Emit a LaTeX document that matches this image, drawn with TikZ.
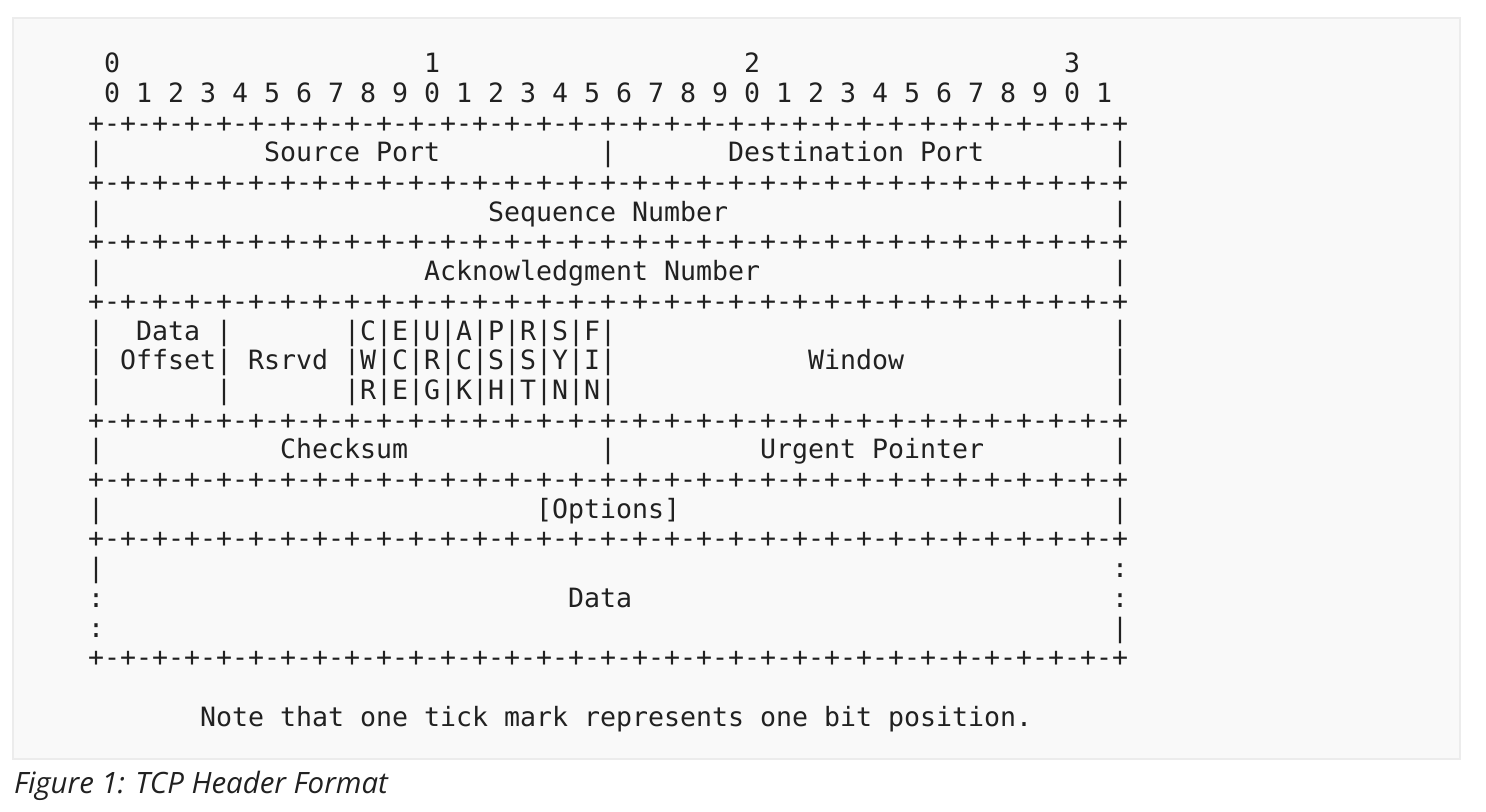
\documentclass[tikz,border=0pt]{standalone}
\usepackage{fontspec}
\newfontfamily\asciifont{DejaVu Sans Mono}
\newfontfamily\capfont{Open Sans}
\definecolor{ink}{RGB}{33,33,33}
\definecolor{boxfill}{RGB}{249,249,249}
\definecolor{boxline}{RGB}{236,236,236}
\def\q{-+-+-+-+}
\newcommand\brdline{+\q\q\q\q\q\q\q\q}
\tikzset{
  asc/.style={anchor=base west, inner sep=0pt, outer sep=0pt, text=ink,
    font=\asciifont\fontsize{13.29pt}{14pt}\selectfont\frenchspacing},
  capt/.style={anchor=base west, inner sep=0pt, outer sep=0pt, text=ink,
    font=\capfont\itshape\fontsize{14.7pt}{16pt}\selectfont}
}
% \ascat{name}{column}{line}{text}
\newcommand\ascat[4]{\node[asc] (#1) at ({40+16*#2},{72.7+29.7*#3}) {#4};}
\begin{document}
\begin{tikzpicture}[x=0.5pt,y=-0.5pt]
\useasboundingbox (0,0) rectangle (1486,812);
\fill[white] (0,0) rectangle (1486,812);
\draw[fill=boxfill, draw=boxline, line width=1pt] (13,18) rectangle (1460,759);
% header numbers
\ascat{h0}{4}{0}{0}
\ascat{h1}{24}{0}{1}
\ascat{h2}{44}{0}{2}
\ascat{h3}{64}{0}{3}
\ascat{bits}{4}{1}{0 1 2 3 4 5 6 7 8 9 0 1 2 3 4 5 6 7 8 9 0 1 2 3 4 5 6 7 8 9 0 1}
\ascat{b1}{3}{2}{\brdline}
% source / destination
\ascat{l3a}{3}{3}{|}
\ascat{src}{14}{3}{Source Port}
\ascat{l3b}{35}{3}{|}
\ascat{dst}{43}{3}{Destination Port}
\ascat{l3c}{67}{3}{|}
\ascat{b2}{3}{4}{\brdline}
% sequence
\ascat{l5a}{3}{5}{|}
\ascat{seq}{28}{5}{Sequence Number}
\ascat{l5b}{67}{5}{|}
\ascat{b3}{3}{6}{\brdline}
% ack
\ascat{l7a}{3}{7}{|}
\ascat{ack}{24}{7}{Acknowledgment Number}
\ascat{l7b}{67}{7}{|}
\ascat{b4}{3}{8}{\brdline}
% data offset / flags / window
\ascat{l9a}{3}{9}{|}
\ascat{doff1}{6}{9}{Data |}
\ascat{flg1}{19}{9}{|C|E|U|A|P|R|S|F|}
\ascat{l9b}{67}{9}{|}
\ascat{doff2}{3}{10}{| Offset| Rsrvd |W|C|R|C|S|S|Y|I|}
\ascat{win}{48}{10}{Window}
\ascat{l10b}{67}{10}{|}
\ascat{l11a}{3}{11}{|}
\ascat{l11b}{11}{11}{|}
\ascat{flg3}{19}{11}{|R|E|G|K|H|T|N|N|}
\ascat{l11c}{67}{11}{|}
\ascat{b5}{3}{12}{\brdline}
% checksum / urgent
\ascat{l13a}{3}{13}{|}
\ascat{chk}{15}{13}{Checksum}
\ascat{l13b}{35}{13}{|}
\ascat{urg}{45}{13}{Urgent Pointer}
\ascat{l13c}{67}{13}{|}
\ascat{b6}{3}{14}{\brdline}
% options
\ascat{l15a}{3}{15}{|}
\ascat{opt}{31}{15}{[Options]}
\ascat{l15b}{67}{15}{|}
\ascat{b7}{3}{16}{\brdline}
% data
\ascat{l17a}{3}{17}{|}
\ascat{l17b}{67}{17}{:}
\ascat{l18a}{3}{18}{:}
\ascat{dat}{33}{18}{Data}
\ascat{l18b}{67}{18}{:}
\ascat{l19a}{3}{19}{:}
\ascat{l19b}{67}{19}{|}
\ascat{b8}{3}{20}{\brdline}
% note
\ascat{note}{10}{22}{Note that one tick mark represents one bit position.}
% caption
\node[capt] (cap) at (14,793) {Figure 1: TCP Header Format};
\end{tikzpicture}
\end{document}
